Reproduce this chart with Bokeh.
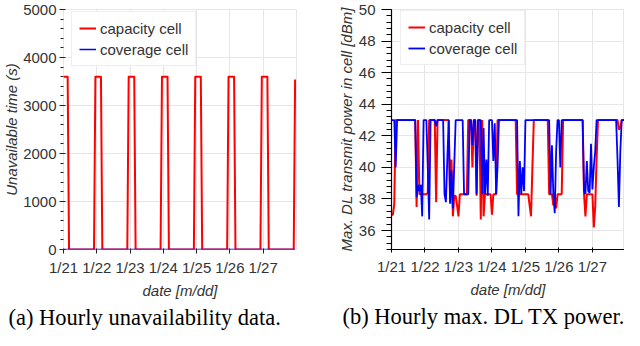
import pandas as pd
from bokeh.plotting import figure
from bokeh.layouts import row
from bokeh.models import Range1d, FixedTicker, SingleIntervalTicker, Legend, LegendItem, Title
from bokeh.embed import file_html
from bokeh.resources import INLINE

# ---------------- data ----------------
day_labels = ["1/21", "1/22", "1/23", "1/24", "1/25", "1/26", "1/27"]
start_date = "2020-01-21 00:00"
n_hours = 168
series_names = ["capacity cell", "coverage cell"]

# (a) hourly unavailable time in seconds
unavail_capacity = [
    3600, 3600, 3600, 3600, 0, 0, 0, 0, 0, 0, 0, 0, 0, 0, 0, 0, 0, 0, 0, 0, 0, 0, 0, 3600,
    3600, 3600, 3600, 3600, 0, 0, 0, 0, 0, 0, 0, 0, 0, 0, 0, 0, 0, 0, 0, 0, 0, 0, 0, 3600,
    3600, 3600, 3600, 3600, 0, 0, 0, 0, 0, 0, 0, 0, 0, 0, 0, 0, 0, 0, 0, 0, 0, 0, 0, 3600,
    3600, 3600, 3600, 3600, 0, 0, 0, 0, 0, 0, 0, 0, 0, 0, 0, 0, 0, 0, 0, 0, 0, 0, 0, 3600,
    3600, 3600, 3600, 3600, 0, 0, 0, 0, 0, 0, 0, 0, 0, 0, 0, 0, 0, 0, 0, 0, 0, 0, 0, 3600,
    3600, 3600, 3600, 3600, 0, 0, 0, 0, 0, 0, 0, 0, 0, 0, 0, 0, 0, 0, 0, 0, 0, 0, 0, 3600,
    3600, 3600, 3600, 3600, 0, 0, 0, 0, 0, 0, 0, 0, 0, 0, 0, 0, 0, 0, 0, 0, 0, 0, 0, 3540,
]
unavail_coverage = [
    0, 0, 0, 0, 0, 0, 0, 0, 0, 0, 0, 0, 0, 0, 0, 0, 0, 0, 0, 0, 0, 0, 0, 0,
    0, 0, 0, 0, 0, 0, 0, 0, 0, 0, 0, 0, 0, 0, 0, 0, 0, 0, 0, 0, 0, 0, 0, 0,
    0, 0, 0, 0, 0, 0, 0, 0, 0, 0, 0, 0, 0, 0, 0, 0, 0, 0, 0, 0, 0, 0, 0, 0,
    0, 0, 0, 0, 0, 0, 0, 0, 0, 0, 0, 0, 0, 0, 0, 0, 0, 0, 0, 0, 0, 0, 0, 0,
    0, 0, 0, 0, 0, 0, 0, 0, 0, 0, 0, 0, 0, 0, 0, 0, 0, 0, 0, 0, 0, 0, 0, 0,
    0, 0, 0, 0, 0, 0, 0, 0, 0, 0, 0, 0, 0, 0, 0, 0, 0, 0, 0, 0, 0, 0, 0, 0,
    0, 0, 0, 0, 0, 0, 0, 0, 0, 0, 0, 0, 0, 0, 0, 0, 0, 0, 0, 0, 0, 0, 0, 0,
]

# (b) hourly max. DL transmit power in dBm
tx_capacity = [
    37.0, 37.0, 37.7, 43, 43, 43, 43, 43, 43, 43, 43, 43, 43, 43, 43, 43, 43, 43,
    37.5, 43, 38.3, 38.3, 38.3, 38.3,
    38.3, 38.3, 38.4, 43, 43, 43, 43, 43, 37.8, 43, 43, 43, 43, 43, 43, 43, 43, 43,
    37.8, 40.5, 36.9, 38.2, 38.2, 37.6,
    36.9, 38.3, 38.3, 38.3, 38.3, 38.3, 38.3, 43, 43, 43, 40.0, 43, 43, 38.2, 43, 43,
    36.7, 43, 36.9, 38.3, 38.3, 38.3, 38.3, 38.3,
    37.0, 38.3, 38.3, 38.3, 43, 43, 43, 43, 43, 43, 43, 43, 43, 43, 43, 43, 43, 43,
    38.3, 38.3, 38.3, 38.3, 38.3, 38.3,
    38.3, 38.3, 38.3, 37.6, 36.9, 40.0, 43, 43, 43, 43, 43, 43, 43, 43, 43, 43, 43,
    38.3, 38.3, 38.3, 37.6, 38.3, 37.4, 38.3,
    38.3, 38.3, 38.3, 43, 43, 43, 43, 43, 43, 43, 43, 43, 43, 43, 43, 43, 43, 43,
    38.3, 36.9, 38.3, 38.3, 38.3, 38.3,
    38.3, 36.2, 37.5, 40.5, 43, 43, 43, 43, 43, 43, 43, 43, 43, 43, 43, 43, 43, 43, 43,
    42.4, 42.5, 43, 43, 43,
]
tx_coverage = [
    43, 43, 43, 40.0, 43, 43, 43, 43, 43, 43, 43, 43, 43, 43, 43, 43, 43, 43,
    38.1, 38.9, 38.5, 38.9, 36.9, 43,
    43, 43, 40.0, 36.7, 43, 43, 43, 43, 42.6, 43, 43, 43, 43, 43,
    38.3, 37.8, 40.5, 43, 37.7, 39.8, 37.4, 40.2, 43, 43,
    43, 43, 43, 43, 38.3, 38.3, 38.3, 38.3, 43, 43, 41.4, 43, 43, 38.3, 43, 43, 43,
    38.3, 42.5, 38.3, 40.5, 38.2, 43, 43,
    43, 40.4, 42.8, 38.3, 40.0, 43, 43, 43, 43, 43, 43, 43, 43, 43, 43, 43, 43, 43, 43,
    36.9, 40.4, 38.3, 40.0, 38.5,
    43, 43, 43, 43, 43, 43, 43, 43, 43, 43, 43, 43, 43, 43, 43, 43, 43, 43,
    38.3, 41.4, 38.3, 37.1, 41.0, 43,
    43, 40.0, 43, 43, 43, 43, 43, 43, 43, 43, 43, 43, 43, 43, 43, 43, 43, 43,
    38.5, 38.3, 40.4, 38.5, 38.4, 41.5,
    38.6, 40.0, 41.0, 43, 43, 43, 43, 43, 43, 43, 43, 43, 43, 43, 43, 43, 43, 43,
    40.5, 37.5, 41.0, 43, 43, 43,
]

captions = ["(a) Hourly unavailability data.", "(b) Hourly max. DL TX power."]
y_titles = ["Unavailable time (s)", "Max. DL transmit power in cell [dBm]"]
x_title = "date [m/dd]"

# ---------------- helpers ----------------
DAY_MS = 86400000
t_ms = (pd.date_range(start_date, periods=n_hours, freq="h").astype("int64") // 10**6).tolist()
tick_ms = (pd.date_range(start_date, periods=len(day_labels), freq="D").astype("int64") // 10**6).tolist()
overrides = {float(t): lab for t, lab in zip(tick_ms, day_labels)}

FONT = "Liberation Sans"
RED = "#ff0000"
BLUE = "#0000ff"
GRID = "#e6e6e6"
TXT = "#333333"


def style(p):
    p.background_fill_color = "white"
    p.border_fill_color = "white"
    p.outline_line_color = GRID
    p.grid.grid_line_color = GRID
    p.grid.grid_line_width = 1
    for ax in p.axis:
        ax.major_label_text_font = FONT
        ax.major_label_text_font_size = "15px"
        ax.major_label_text_color = TXT
        ax.axis_label_text_font = FONT
        ax.axis_label_text_font_size = "15px"
        ax.axis_label_text_font_style = "italic"
        ax.axis_label_text_color = TXT
    p.xaxis.ticker = FixedTicker(ticks=tick_ms)
    p.xaxis.major_label_overrides = overrides
    p.xaxis.minor_tick_line_color = None
    p.xaxis.axis_label = x_title
    p.xaxis.axis_label_standoff = 3
    p.xaxis.major_label_standoff = 5


def make_legend(r_a, r_b, loc):
    return Legend(
        items=[LegendItem(label=series_names[0], renderers=[r_a]),
               LegendItem(label=series_names[1], renderers=[r_b])],
        location=loc,
        label_text_font=FONT, label_text_font_size="15px", label_text_color=TXT,
        glyph_width=17, glyph_height=18, label_height=18, label_standoff=4,
        padding=7, spacing=3, margin=0,
        border_line_color="#dddddd", border_line_width=1,
        background_fill_color="white", background_fill_alpha=1.0,
    )


def caption(text, offset):
    return Title(text=text, align="left", offset=offset, standoff=2,
                 text_font="Liberation Serif", text_font_size="22.5px",
                 text_font_style="normal", text_color="black")


# ---------------- (a) ----------------
p1 = figure(width=334, height=330, x_axis_type="datetime",
            x_range=Range1d(tick_ms[0], tick_ms[0] + 7 * DAY_MS), y_range=Range1d(0, 5000),
            output_backend="svg", toolbar_location=None,
            min_border_left=62, min_border_right=38, min_border_top=9, min_border_bottom=81)
ra1 = p1.line(t_ms, unavail_capacity, line_color=RED, line_width=2, line_join="round")
rb1 = p1.line(t_ms, unavail_coverage, line_color=BLUE, line_width=1.5)
style(p1)
p1.yaxis.ticker = SingleIntervalTicker(interval=1000, num_minor_ticks=5)
p1.axis.axis_line_color = None
p1.yaxis.major_tick_in = 2
p1.yaxis.major_tick_out = 4
p1.yaxis.minor_tick_in = 0
p1.yaxis.minor_tick_out = 3
p1.yaxis.major_label_standoff = 3
p1.yaxis.axis_label = y_titles[0]
p1.yaxis.axis_label_standoff = 0
p1.xaxis.major_tick_in = 1
p1.xaxis.major_tick_out = 4
p1.axis.major_tick_line_color = "#222222"
p1.yaxis.minor_tick_line_color = "#222222"
p1.add_layout(make_legend(ra1, rb1, (8, 183)))
p1.add_layout(caption(captions[0], -55), "below")

# ---------------- (b) ----------------
p2 = figure(width=290, height=330, x_axis_type="datetime",
            x_range=Range1d(t_ms[0], t_ms[-1]), y_range=Range1d(34.8, 50),
            output_backend="svg", toolbar_location=None,
            min_border_left=51, min_border_right=0, min_border_top=9, min_border_bottom=80)
ra2 = p2.line(t_ms, tx_capacity, line_color=RED, line_width=2)
rb2 = p2.line(t_ms, tx_coverage, line_color=BLUE, line_width=1.8)
style(p2)
p2.yaxis.ticker = SingleIntervalTicker(interval=2, num_minor_ticks=5)
p2.axis.axis_line_color = "black"
p2.axis.axis_line_width = 1.2
p2.axis.major_tick_line_color = "black"
p2.yaxis.minor_tick_line_color = "black"
p2.yaxis.major_tick_in = 0
p2.yaxis.major_tick_out = 10
p2.yaxis.minor_tick_in = 0
p2.yaxis.minor_tick_out = 5
p2.yaxis.major_label_standoff = 6
p2.yaxis.axis_label = y_titles[1]
p2.yaxis.axis_label_standoff = 1
p2.xaxis.major_tick_in = 2
p2.xaxis.major_tick_out = 3
p2.add_layout(make_legend(ra2, rb2, (9, 184)))
p2.add_layout(caption(captions[1], -49), "below")

layout = row(p1, p2)
open("out.html", "w").write(file_html(layout, INLINE))
